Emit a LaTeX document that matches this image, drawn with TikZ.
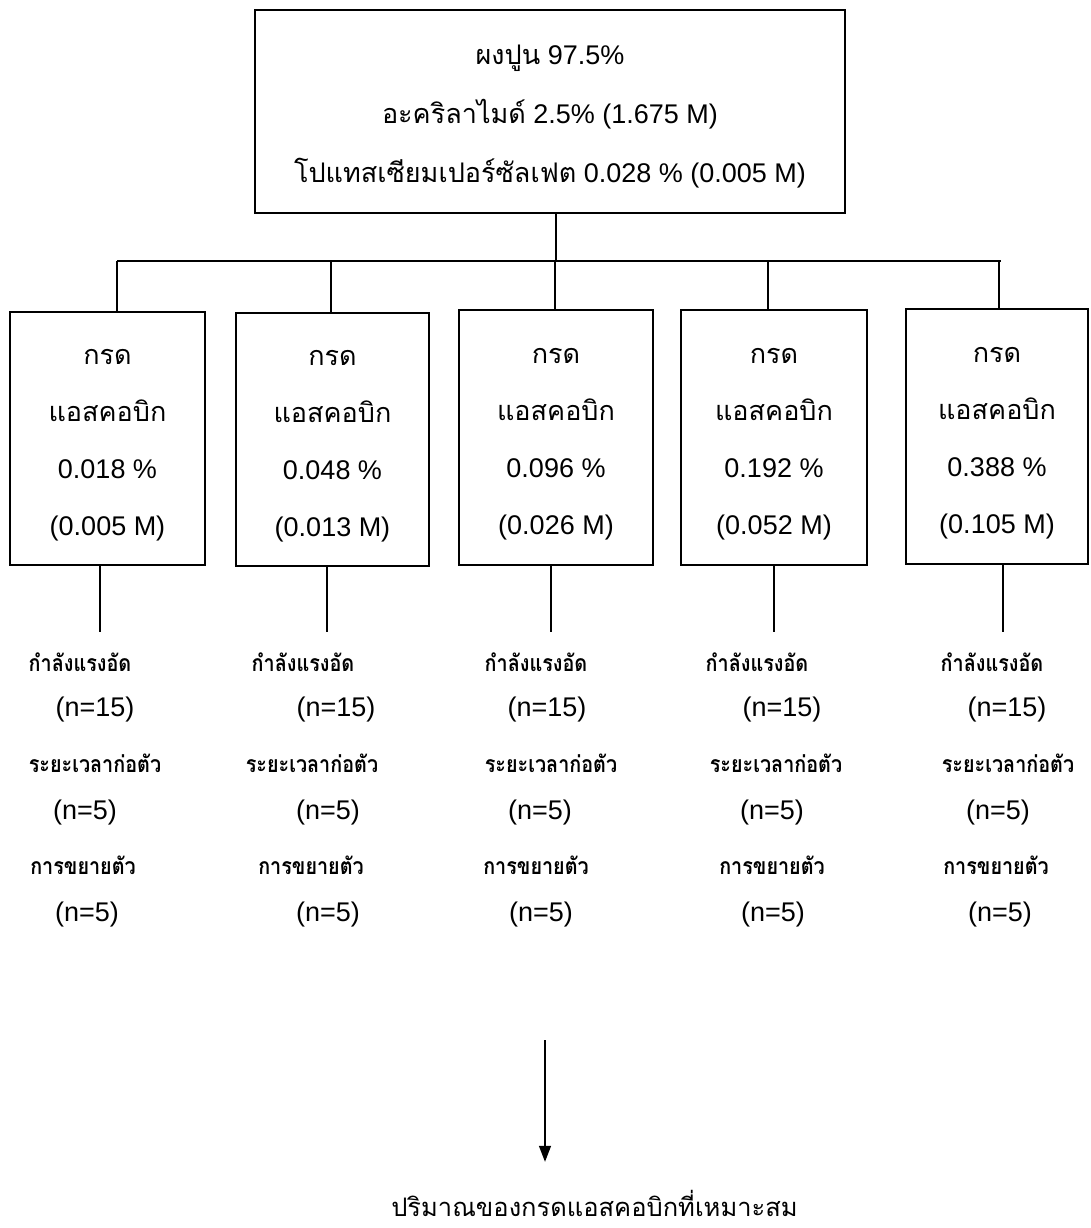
\documentclass[tikz,border=0pt]{standalone}
\usepackage{fontspec}
\setmainfont{Liberation Sans}
\newfontfamily\thai[Script=Thai]{Loma}
\newfontfamily\thaic[Script=Thai,FakeStretch=0.86]{Loma}
\usetikzlibrary{arrows.meta}
\newcommand{\firstln}[1]{\rule{0pt}{#1pt}}
\newcommand{\lastln}[1]{\rule[-#1pt]{0pt}{#1pt}}
\begin{document}
\begin{tikzpicture}[x=1pt,y=-1pt,
  ln/.style={line width=1.3pt},
  bx/.style={draw,line width=1.5pt,inner sep=0pt,align=center,font=\fontsize{27}{57}\selectfont},
  lab/.style={inner sep=0pt,font=\thaic\bfseries\fontsize{23}{26}\selectfont},
  num/.style={inner sep=0pt,font=\fontsize{27}{30}\selectfont},
  arr/.style={ln,-{Triangle[length=16pt,width=12pt]}}]
\useasboundingbox (0,0) rectangle (1090,1228);
\node[bx,minimum width=590pt,minimum height=203pt,font=\fontsize{27}{59}\selectfont] (top) at (550,111.5)
  {\firstln{34}{\thai ผงปูน} 97.5\%\\{\thai อะคริลาไมด์} 2.5\% (1.675 M)\\{\thai โปแทสเซียมเปอร์ซัลเฟต} 0.028 \% (0.005 M)\lastln{10}};
\node[bx,minimum width=195pt,minimum height=253pt] (b1) at (107.5,438.5)
  {\firstln{33}{\thai กรด}\\{\thai แอสคอบิก}\\0.018 \%\\(0.005 M)\lastln{10}};
\node[bx,minimum width=193pt,minimum height=253pt] (b2) at (332.5,439.5)
  {\firstln{33}{\thai กรด}\\{\thai แอสคอบิก}\\0.048 \%\\(0.013 M)\lastln{10}};
\node[bx,minimum width=194pt,minimum height=255pt] (b3) at (556,437.5)
  {\firstln{33}{\thai กรด}\\{\thai แอสคอบิก}\\0.096 \%\\(0.026 M)\lastln{10}};
\node[bx,minimum width=186pt,minimum height=255pt] (b4) at (774,437.5)
  {\firstln{33}{\thai กรด}\\{\thai แอสคอบิก}\\0.192 \%\\(0.052 M)\lastln{10}};
\node[bx,minimum width=182pt,minimum height=255pt] (b5) at (997,436.5)
  {\firstln{33}{\thai กรด}\\{\thai แอสคอบิก}\\0.388 \%\\(0.105 M)\lastln{10}};
% bus
\coordinate (j0) at (556,261);
\coordinate (t1) at (117,261);
\coordinate (t2) at (331,261);
\coordinate (t3) at (555,261);
\coordinate (t4) at (768,261);
\coordinate (t5) at (999,261);
\coordinate (te) at (1001,261);
\draw[ln] (top.south -| j0) -- (j0);
\draw[ln] (t1) -- (te);
\foreach \k in {1,...,5}{\draw[ln] (t\k) -- (b\k.north -| t\k);}
% down lines
\coordinate (d1) at (100,632);
\coordinate (d2) at (327,632);
\coordinate (d3) at (551,632);
\coordinate (d4) at (774,632);
\coordinate (d5) at (1003,632);
\foreach \k in {1,...,5}{\draw[ln] (b\k.south -| d\k) -- (d\k);}
% labels
\foreach \c/\xa/\xb/\xc/\xd/\xe/\xf in {1/80/95/95/85/83/87, 2/303/336/312/328/311/328, 3/536/547/551/540/536/541, 4/757/782/776/772/772/773, 5/992/1007/1008/998/996/1000}{
  \node[lab] (s\c) at (\xa,662) {กำลังแรงอัด};
  \node[num] (sn\c) at (\xb,710) {(n=15)};
  \node[lab] (r\c) at (\xc,763) {ระยะเวลาก่อตัว};
  \node[num] (rn\c) at (\xd,813) {(n=5)};
  \node[lab] (e\c) at (\xe,865) {การขยายตัว};
  \node[num] (en\c) at (\xf,915) {(n=5)};
}
% final
\node[anchor=base,inner sep=0pt,text height=54pt,font=\thai\fontsize{25.5}{30}\selectfont] (fin) at (594.5,1216) {ปริมาณของกรดแอสคอบิกที่เหมาะสม};
\coordinate (a0) at (545,1040);
\draw[arr] (a0) -- (a0 |- fin.north);
\end{tikzpicture}
\end{document}
